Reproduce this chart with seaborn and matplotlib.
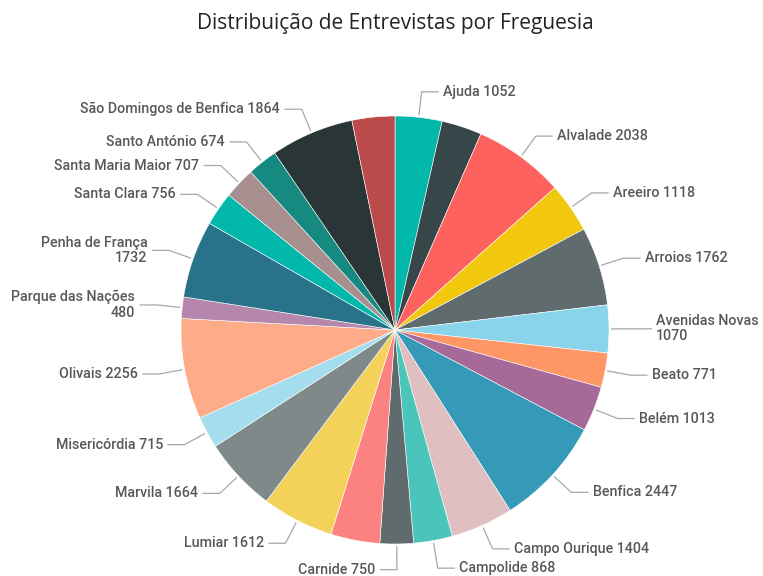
import numpy as np
import matplotlib
matplotlib.use("Agg")
import matplotlib.pyplot as plt
import seaborn as sns

# Interviews per parish (Lisbon), clockwise from 12 o'clock
freguesias = ["Ajuda", "Alcântara", "Alvalade", "Areeiro", "Arroios", "Avenidas Novas",
              "Beato", "Belém", "Benfica", "Campo Ourique", "Campolide", "Carnide",
              "Estrela", "Lumiar", "Marvila", "Misericórdia", "Olivais", "Parque das Nações",
              "Penha de França", "Santa Clara", "Santa Maria Maior", "Santo António",
              "São Domingos de Benfica", "São Vicente"]
entrevistas = [1052, 900, 2038, 1118, 1762, 1070, 771, 1013, 2447, 1404, 868, 750,
               1100, 1612, 1664, 715, 2256, 480, 1732, 756, 707, 674, 1864, 960]
# slices without a visible data label in the original
sem_rotulo = ["Alcântara", "Estrela", "São Vicente"]
# labels that wrap onto two lines
duas_linhas = ["Avenidas Novas", "Parque das Nações", "Penha de França"]

cores = ["#01B8AA", "#374649", "#FD625E", "#F2C80F", "#5F6B6D", "#8AD4EB",
         "#FE9666", "#A66999", "#3599B8", "#DFBFBF", "#4AC5BB", "#5F6B6D",
         "#FB8281", "#F4D25A", "#7F898A", "#A4DDEE", "#FDAB89", "#B687AC",
         "#28738A", "#01B8AA", "#A78F8F", "#168980", "#293537", "#BB4A4A"]

sns.set_theme(style="white")
plt.rcParams["font.family"] = ["Roboto", "DejaVu Sans"]

fig = plt.figure(figsize=(7.63, 5.76), dpi=100)
ax = fig.add_axes([0, 0, 1, 1])

wedges, _ = ax.pie(entrevistas, colors=cores, startangle=90, counterclock=False,
                   radius=1.0, wedgeprops=dict(edgecolor="white", linewidth=0.4))

# pixel layout: centre (395, 330), radius 214 px
R_PX = 214
ax.set_xlim(-395 / R_PX, (763 - 395) / R_PX)
ax.set_ylim(-(576 - 330) / R_PX, 330 / R_PX)
ax.set_aspect("equal")
ax.axis("off")

# label layout
total = sum(entrevistas)
ang = np.cumsum([0] + entrevistas[:-1]) + np.array(entrevistas) / 2
ang = np.deg2rad(ang / total * 360)  # clockwise from top

itens = []
for nome, v, a in zip(freguesias, entrevistas, ang):
    if nome in sem_rotulo:
        continue
    lado = 1 if np.rad2deg(a) < 179 else -1
    txt = f"{nome}\n{v}" if nome in duas_linhas else f"{nome} {v}"
    itens.append(dict(a=a, lado=lado, txt=txt, y=1.12 * np.cos(a),
                      n=txt.count("\n") + 1))

# resolve vertical overlaps on each side
for lado in (1, -1):
    grupo = sorted([it for it in itens if it["lado"] == lado], key=lambda d: -d["y"])
    for i in range(1, len(grupo)):
        gap = 0.045 * (grupo[i - 1]["n"] + grupo[i]["n"])
        if grupo[i - 1]["y"] - grupo[i]["y"] < gap:
            grupo[i]["y"] = grupo[i - 1]["y"] - gap

for it in itens:
    a, lado = it["a"], it["lado"]
    x0, y0 = 1.01 * np.sin(a), 1.01 * np.cos(a)
    x1, y1 = 1.12 * np.sin(a), it["y"]
    x2 = x1 + lado * 0.08
    ax.plot([x0, x1, x2], [y0, y1, y1], color="#A8A8A8", lw=0.9,
            solid_capstyle="butt", clip_on=False)
    ax.text(x2 + lado * 0.02, y1, it["txt"], ha="left" if lado > 0 else "right",
            va="center", fontsize=10.3, color="#5A5856", fontweight="medium",
            clip_on=False, linespacing=1.1)

fig.text(395 / 763, 1 - 24 / 576, "Distribuição de Entrevistas por Freguesia",
         ha="center", va="center", fontsize=15, color="#252423",
         family=["Open Sans", "DejaVu Sans"])

plt.savefig("out.png", dpi=100)
